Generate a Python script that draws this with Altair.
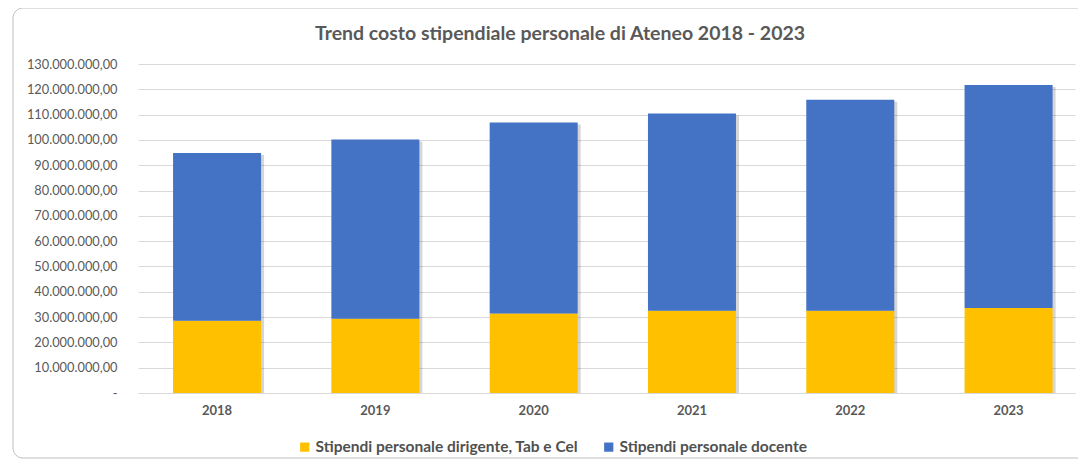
import altair as alt
import pandas as pd

years = ["2018", "2019", "2020", "2021", "2022", "2023"]
dirigente = [28.5e6, 29.3e6, 31.4e6, 32.5e6, 32.5e6, 33.6e6]
docente = [66.3e6, 70.9e6, 75.5e6, 77.9e6, 83.4e6, 88.1e6]
series = ["Stipendi personale dirigente, Tab e Cel", "Stipendi personale docente"]
colors = ["#FFC000", "#4472C4"]
y_ticks = list(range(0, 130_000_001, 10_000_000))
title_text = "Trend costo stipendiale personale di Ateneo 2018 - 2023"

rows = []
for i, yr in enumerate(years):
    rows.append({"anno": yr, "serie": series[0], "valore": dirigente[i], "ord": 0})
    rows.append({"anno": yr, "serie": series[1], "valore": docente[i], "ord": 1})
df = pd.DataFrame(rows)

FONT = "Lato"
GRAY = "#595959"

xscale = alt.Scale(domain=years, paddingInner=0.444, paddingOuter=0.1815, align=0.61)
yscale = alt.Scale(domain=[0, 130_000_000], nice=False, zero=True)

xaxis = alt.Axis(
    title=None,
    labelAngle=0,
    labelFont=FONT,
    labelFontSize=13,
    labelFontWeight="bold",
    labelColor=GRAY,
    labelPadding=11,
    ticks=False,
    domain=True,
    domainColor="#D9D9D9",
    grid=False,
)
yaxis = alt.Axis(
    title=None,
    values=y_ticks,
    labelExpr="datum.value == 0 ? '-' : format(datum.value / 1000000, 'd') + '.000.000,00'",
    labelFont=FONT,
    labelFontSize=12.8,
    labelColor=GRAY,
    labelPadding=21,
    ticks=False,
    domain=False,
    grid=True,
    gridColor="#D9D9D9",
    gridWidth=1,
)

base = alt.Chart(df)

bars = base.mark_bar().encode(
    x=alt.X("anno:N", scale=xscale, axis=xaxis),
    y=alt.Y("valore:Q", stack="zero", scale=yscale, axis=yaxis),
    color=alt.Color(
        "serie:N",
        scale=alt.Scale(domain=series, range=colors),
        legend=alt.Legend(
            title=None,
            orient="none",
            legendX=159,
            legendY=375,
            direction="horizontal",
            symbolType="square",
            symbolSize=85,
            symbolStrokeWidth=0,
            labelFont=FONT,
            labelFontSize=15.5,
            labelFontWeight="bold",
            labelColor="#505050",
            labelLimit=500,
            columnPadding=22,
            labelOffset=3,
        ),
    ),
    order=alt.Order("ord:Q", sort="ascending"),
)

shadow = base.mark_bar(color="#000000", opacity=0.16, xOffset=3, yOffset=2).encode(
    x=alt.X("anno:N", scale=xscale, axis=xaxis),
    y=alt.Y("sum(valore):Q", scale=yscale, axis=yaxis),
)

one = pd.DataFrame({"k": [0]})

border = alt.Chart(one).mark_rect(
    fill="transparent", stroke="#BFBFBF", strokeWidth=1, cornerRadius=10, clip=False
).encode(
    x=alt.value(-125),
    x2=alt.value(1000),
    y=alt.value(-56),
    y2=alt.value(394),
)

title = alt.Chart(one).mark_text(
    font=FONT,
    fontSize=19.5,
    fontWeight="bold",
    color=GRAY,
    align="center",
    baseline="middle",
    clip=False,
).encode(
    x=alt.value(422),
    y=alt.value(-30),
    text=alt.value(title_text),
)

chart = alt.layer(border, shadow, bars, title).properties(
    width=937,
    height=329,
    autosize=alt.AutoSizeParams(type="none"),
    padding={"left": 130, "top": 56, "right": 3, "bottom": 67},
).configure(
    background="#FFFFFF",
    view=alt.ViewConfig(stroke="transparent"),
)

chart.save("out.html", embed_options={"renderer": "svg", "actions": False})
